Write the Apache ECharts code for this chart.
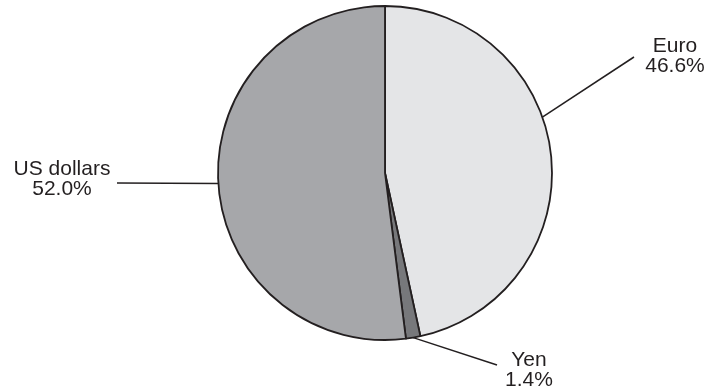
<!DOCTYPE html>
<html>
<head>
<meta charset="utf-8">
<style>
  html, body { margin: 0; padding: 0; background: #ffffff; }
  #chart { width: 708px; height: 391px; }
</style>
<script src="https://cdn.jsdelivr.net/npm/echarts@6/dist/echarts.min.js"></script>
</head>
<body>
<div id="chart"></div>
<script>
// Currency shares (per cent), listed clockwise from 12 o'clock
const currencies = ['Euro', 'Yen', 'US dollars'];
const shares = [46.6, 1.4, 52.0];

// Slice fills
const sliceColors = ['#e4e5e7', '#77787b', '#a6a7aa'];

// Pie geometry (pixels)
const pieCenter = [385, 173];
const pieRadius = 167;

// Label placement: centre of each two-line label, where its leader leaves the
// slice (fraction of the slice's sweep) and where the leader stops.
const labelCenters = [[675, 56], [529, 370], [62, 179]];
const leaderStartFraction = [0.42, 0.5, 0.5];
const leaderEnds = [[634, 57], [497, 365], [117, 183]];

const total = shares.reduce((a, b) => a + b, 0);

function leaderStart(i) {
  let before = 0;
  for (let k = 0; k < i; k++) before += shares[k];
  const frac = (before + shares[i] * leaderStartFraction[i]) / total;
  const ang = frac * 2 * Math.PI; // clockwise from top
  return [pieCenter[0] + pieRadius * Math.sin(ang),
          pieCenter[1] - pieRadius * Math.cos(ang)];
}

const chart = echarts.init(document.getElementById('chart'), null, { renderer: 'canvas' });

chart.setOption({
  animation: false,
  backgroundColor: '#ffffff',
  series: [{
    type: 'pie',
    center: pieCenter,
    radius: pieRadius,
    startAngle: 90,
    clockwise: true,
    avoidLabelOverlap: false,
    silent: true,
    data: currencies.map((name, i) => ({
      name: name,
      value: shares[i],
      itemStyle: { color: sliceColors[i] }
    })),
    itemStyle: { borderColor: '#231f20', borderWidth: 1.8 },
    label: {
      show: true,
      position: 'outside',
      formatter: p => p.name + '\n' + p.value.toFixed(1) + '%',
      fontFamily: '"Liberation Sans", Arial, sans-serif',
      fontSize: 21,
      lineHeight: 20,
      color: '#231f20',
      align: 'center'
    },
    labelLine: {
      show: true,
      length: 20,
      length2: 0,
      smooth: false,
      lineStyle: { color: '#231f20', width: 1.5 }
    },
    labelLayout: function (params) {
      const i = params.dataIndex;
      const s = leaderStart(i);
      const e = leaderEnds[i];
      return {
        x: labelCenters[i][0],
        y: labelCenters[i][1],
        align: 'center',
        verticalAlign: 'middle',
        labelLinePoints: [s, e, e]
      };
    },
    emphasis: { disabled: true }
  }]
});
</script>
</body>
</html>
